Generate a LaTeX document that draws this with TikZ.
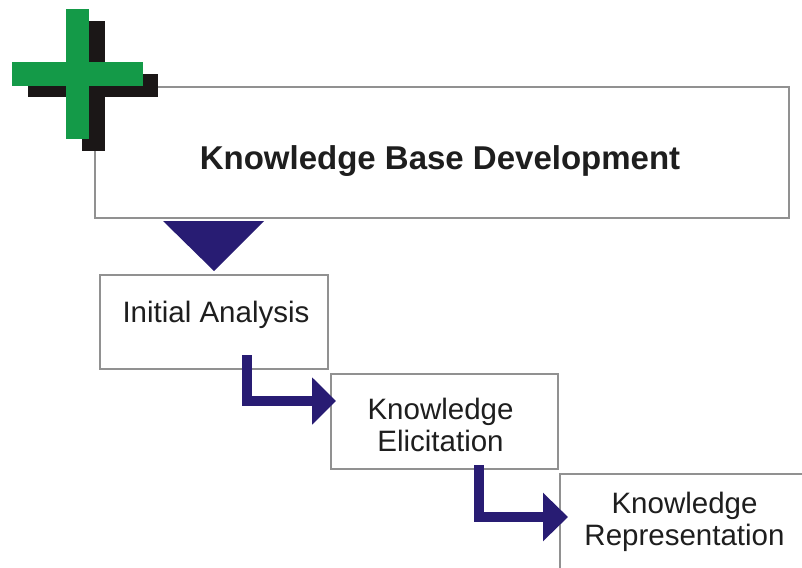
\documentclass[tikz,border=0pt]{standalone}
\usepackage{fontspec}
\setmainfont{Liberation Sans}
\usetikzlibrary{arrows.meta}
\definecolor{navy}{RGB}{40,28,115}
\definecolor{crossgreen}{RGB}{20,154,72}
\definecolor{shadow}{RGB}{27,23,23}
\definecolor{boxline}{RGB}{145,145,145}
\definecolor{txt}{RGB}{30,30,30}
\begin{document}
\begin{tikzpicture}[x=1pt,y=-1pt,
  box/.style={draw=boxline,line width=1.7pt,fill=white,inner sep=0pt,anchor=north west},
  lbl/.style={text=txt,inner sep=0pt,anchor=base,align=center},
  steparrow/.style={draw=navy,line join=miter,line cap=butt}]
\useasboundingbox (0,0) rectangle (802,567);
\clip (0,0) rectangle (802,567);
% boxes
\node[box,minimum width=694pt,minimum height=131pt] (main) at (94,86) {};
\node[box,minimum width=228pt,minimum height=94pt] (init) at (99,274) {};
\node[box,minimum width=227pt,minimum height=95pt] (elic) at (330,373) {};
\node[box,minimum width=260pt,minimum height=120pt] (repr) at (559,473) {};
% cross shadow
\fill[shadow] (82,21) rectangle (105,151);
\fill[shadow] (28,74) rectangle (158,97);
% cross
\fill[crossgreen] (66,9) rectangle (89,139);
\fill[crossgreen] (12,62) rectangle (143,86);
% texts
\node[lbl,font=\bfseries\fontsize{33}{38}\selectfont] (t0) at (440,169) {Knowledge Base Development};
\node[lbl,font=\fontsize{29.5}{32}\selectfont] (t1) at (216,322) {Initial Analysis};
\node[lbl,font=\fontsize{29.5}{32}\selectfont] (t2) at (440.5,451) {Knowledge\\Elicitation};
\node[lbl,font=\fontsize{29.5}{32}\selectfont] (t3) at (684.5,545) {Knowledge\\Representation};
% triangle connector
\coordinate (tl) at (163,221);
\coordinate (tr) at (264,221);
\coordinate (tp) at (214,271);
\fill[navy] (tl) -- (tr) -- (tp) -- cycle;
% arrows
\coordinate (a1s) at (247,355);
\coordinate (a1e) at (336,401);
\coordinate (a2s) at (479,465);
\coordinate (a2e) at (568,517);
\draw[steparrow,line width=9.5pt,-{Triangle[length=24pt,width=46pt]}] (a1s) |- (a1e);
\draw[steparrow,line width=10.5pt,-{Triangle[length=25pt,width=47pt]}] (a2s) |- (a2e);
\end{tikzpicture}
\end{document}
